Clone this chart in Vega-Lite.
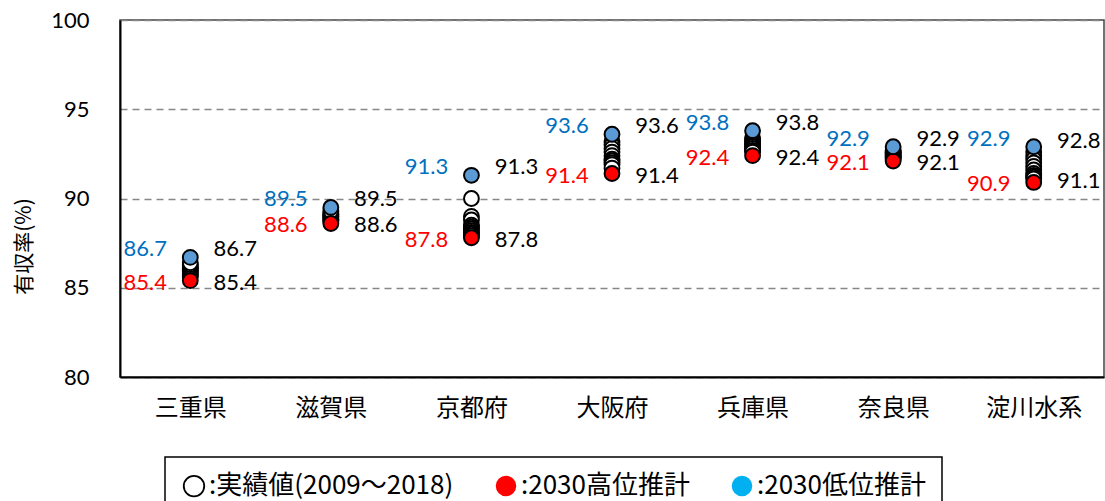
{
  "$schema": "https://vega.github.io/schema/vega-lite/v6.json",
  "width": 984,
  "height": 357,
  "autosize": {"type": "none"},
  "padding": {"left": 120, "top": 20, "right": 1, "bottom": 124},
  "background": "white",
  "config": {
    "view": {"stroke": "#444", "strokeWidth": 1.5},
    "font": "Lato"
  },
  "datasets": {
    "pts": [
      {"pref": "三重県", "type": "実績", "value": 85.6},
      {"pref": "三重県", "type": "実績", "value": 85.7},
      {"pref": "三重県", "type": "実績", "value": 85.8},
      {"pref": "三重県", "type": "実績", "value": 85.9},
      {"pref": "三重県", "type": "実績", "value": 86.0},
      {"pref": "三重県", "type": "実績", "value": 86.0},
      {"pref": "三重県", "type": "実績", "value": 86.1},
      {"pref": "三重県", "type": "実績", "value": 86.2},
      {"pref": "三重県", "type": "実績", "value": 86.3},
      {"pref": "三重県", "type": "実績", "value": 86.4},
      {"pref": "滋賀県", "type": "実績", "value": 88.7},
      {"pref": "滋賀県", "type": "実績", "value": 88.8},
      {"pref": "滋賀県", "type": "実績", "value": 88.8},
      {"pref": "滋賀県", "type": "実績", "value": 88.9},
      {"pref": "滋賀県", "type": "実績", "value": 89.0},
      {"pref": "滋賀県", "type": "実績", "value": 89.0},
      {"pref": "滋賀県", "type": "実績", "value": 89.1},
      {"pref": "滋賀県", "type": "実績", "value": 89.1},
      {"pref": "滋賀県", "type": "実績", "value": 89.2},
      {"pref": "滋賀県", "type": "実績", "value": 89.3},
      {"pref": "京都府", "type": "実績", "value": 90.0},
      {"pref": "京都府", "type": "実績", "value": 89.0},
      {"pref": "京都府", "type": "実績", "value": 88.8},
      {"pref": "京都府", "type": "実績", "value": 88.5},
      {"pref": "京都府", "type": "実績", "value": 88.4},
      {"pref": "京都府", "type": "実績", "value": 88.3},
      {"pref": "京都府", "type": "実績", "value": 88.2},
      {"pref": "京都府", "type": "実績", "value": 88.1},
      {"pref": "京都府", "type": "実績", "value": 88.0},
      {"pref": "京都府", "type": "実績", "value": 87.9},
      {"pref": "大阪府", "type": "実績", "value": 93.2},
      {"pref": "大阪府", "type": "実績", "value": 93.0},
      {"pref": "大阪府", "type": "実績", "value": 92.8},
      {"pref": "大阪府", "type": "実績", "value": 92.6},
      {"pref": "大阪府", "type": "実績", "value": 92.4},
      {"pref": "大阪府", "type": "実績", "value": 92.2},
      {"pref": "大阪府", "type": "実績", "value": 92.1},
      {"pref": "大阪府", "type": "実績", "value": 92.0},
      {"pref": "大阪府", "type": "実績", "value": 91.9},
      {"pref": "大阪府", "type": "実績", "value": 91.7},
      {"pref": "兵庫県", "type": "実績", "value": 93.4},
      {"pref": "兵庫県", "type": "実績", "value": 93.3},
      {"pref": "兵庫県", "type": "実績", "value": 93.2},
      {"pref": "兵庫県", "type": "実績", "value": 93.1},
      {"pref": "兵庫県", "type": "実績", "value": 93.0},
      {"pref": "兵庫県", "type": "実績", "value": 92.9},
      {"pref": "兵庫県", "type": "実績", "value": 92.9},
      {"pref": "兵庫県", "type": "実績", "value": 92.8},
      {"pref": "兵庫県", "type": "実績", "value": 92.7},
      {"pref": "兵庫県", "type": "実績", "value": 92.6},
      {"pref": "奈良県", "type": "実績", "value": 92.7},
      {"pref": "奈良県", "type": "実績", "value": 92.6},
      {"pref": "奈良県", "type": "実績", "value": 92.6},
      {"pref": "奈良県", "type": "実績", "value": 92.5},
      {"pref": "奈良県", "type": "実績", "value": 92.5},
      {"pref": "奈良県", "type": "実績", "value": 92.4},
      {"pref": "奈良県", "type": "実績", "value": 92.4},
      {"pref": "奈良県", "type": "実績", "value": 92.3},
      {"pref": "奈良県", "type": "実績", "value": 92.3},
      {"pref": "奈良県", "type": "実績", "value": 92.2},
      {"pref": "淀川水系", "type": "実績", "value": 92.6},
      {"pref": "淀川水系", "type": "実績", "value": 92.4},
      {"pref": "淀川水系", "type": "実績", "value": 92.2},
      {"pref": "淀川水系", "type": "実績", "value": 92.0},
      {"pref": "淀川水系", "type": "実績", "value": 91.8},
      {"pref": "淀川水系", "type": "実績", "value": 91.6},
      {"pref": "淀川水系", "type": "実績", "value": 91.4},
      {"pref": "淀川水系", "type": "実績", "value": 91.3},
      {"pref": "淀川水系", "type": "実績", "value": 91.2},
      {"pref": "淀川水系", "type": "実績", "value": 91.1},
      {"pref": "三重県", "type": "高位", "value": 85.4},
      {"pref": "滋賀県", "type": "高位", "value": 88.6},
      {"pref": "京都府", "type": "高位", "value": 87.8},
      {"pref": "大阪府", "type": "高位", "value": 91.4},
      {"pref": "兵庫県", "type": "高位", "value": 92.4},
      {"pref": "奈良県", "type": "高位", "value": 92.1},
      {"pref": "淀川水系", "type": "高位", "value": 90.9},
      {"pref": "三重県", "type": "低位", "value": 86.7},
      {"pref": "滋賀県", "type": "低位", "value": 89.5},
      {"pref": "京都府", "type": "低位", "value": 91.3},
      {"pref": "大阪府", "type": "低位", "value": 93.6},
      {"pref": "兵庫県", "type": "低位", "value": 93.8},
      {"pref": "奈良県", "type": "低位", "value": 92.9},
      {"pref": "淀川水系", "type": "低位", "value": 92.9}
    ],
    "labels": [
      {"pref": "三重県", "side": "left", "pos": "top", "series": "低位", "value": 86.7},
      {"pref": "三重県", "side": "left", "pos": "bottom", "series": "高位", "value": 85.4},
      {"pref": "三重県", "side": "right", "pos": "top", "series": "実績", "value": 86.7},
      {"pref": "三重県", "side": "right", "pos": "bottom", "series": "実績", "value": 85.4},
      {"pref": "滋賀県", "side": "left", "pos": "top", "series": "低位", "value": 89.5},
      {"pref": "滋賀県", "side": "left", "pos": "bottom", "series": "高位", "value": 88.6},
      {"pref": "滋賀県", "side": "right", "pos": "top", "series": "実績", "value": 89.5},
      {"pref": "滋賀県", "side": "right", "pos": "bottom", "series": "実績", "value": 88.6},
      {"pref": "京都府", "side": "left", "pos": "top", "series": "低位", "value": 91.3},
      {"pref": "京都府", "side": "left", "pos": "bottom", "series": "高位", "value": 87.8},
      {"pref": "京都府", "side": "right", "pos": "top", "series": "実績", "value": 91.3},
      {"pref": "京都府", "side": "right", "pos": "bottom", "series": "実績", "value": 87.8},
      {"pref": "大阪府", "side": "left", "pos": "top", "series": "低位", "value": 93.6},
      {"pref": "大阪府", "side": "left", "pos": "bottom", "series": "高位", "value": 91.4},
      {"pref": "大阪府", "side": "right", "pos": "top", "series": "実績", "value": 93.6},
      {"pref": "大阪府", "side": "right", "pos": "bottom", "series": "実績", "value": 91.4},
      {"pref": "兵庫県", "side": "left", "pos": "top", "series": "低位", "value": 93.8},
      {"pref": "兵庫県", "side": "left", "pos": "bottom", "series": "高位", "value": 92.4},
      {"pref": "兵庫県", "side": "right", "pos": "top", "series": "実績", "value": 93.8},
      {"pref": "兵庫県", "side": "right", "pos": "bottom", "series": "実績", "value": 92.4},
      {"pref": "奈良県", "side": "left", "pos": "top", "series": "低位", "value": 92.9},
      {"pref": "奈良県", "side": "left", "pos": "bottom", "series": "高位", "value": 92.1},
      {"pref": "奈良県", "side": "right", "pos": "top", "series": "実績", "value": 92.9},
      {"pref": "奈良県", "side": "right", "pos": "bottom", "series": "実績", "value": 92.1},
      {"pref": "淀川水系", "side": "left", "pos": "top", "series": "低位", "value": 92.9},
      {"pref": "淀川水系", "side": "left", "pos": "bottom", "series": "高位", "value": 90.9},
      {"pref": "淀川水系", "side": "right", "pos": "top", "series": "実績", "value": 92.8},
      {"pref": "淀川水系", "side": "right", "pos": "bottom", "series": "実績", "value": 91.1}
    ]
  },
  "encoding": {
    "x": {
      "field": "pref",
      "type": "nominal",
      "sort": ["三重県", "滋賀県", "京都府", "大阪府", "兵庫県", "奈良県", "淀川水系"],
      "scale": {"paddingInner": 0, "paddingOuter": 0},
      "axis": {
        "title": null,
        "labelAngle": 0,
        "labelFont": "Noto Sans CJK JP",
        "labelFontSize": 24,
        "labelColor": "black",
        "labelPadding": 19,
        "ticks": false,
        "domainColor": "black",
        "domainWidth": 2,
        "grid": false
      }
    },
    "y": {
      "field": "value",
      "type": "quantitative",
      "scale": {"domain": [80, 100], "nice": false, "zero": false},
      "axis": {
        "title": "有収率(%)",
        "titleFont": "Noto Sans CJK JP",
        "titleFontSize": 21,
        "titleFontWeight": "normal",
        "titleColor": "black",
        "titleX": -86,
        "titleY": 226,
        "values": [80, 85, 90, 95, 100],
        "labelFont": "Lato",
        "labelFontSize": 22,
        "labelColor": "black",
        "labelPadding": 31,
        "ticks": false,
        "domainColor": "black",
        "domainWidth": 2,
        "grid": true,
        "gridColor": "#888888",
        "gridDash": [7, 5],
        "gridWidth": 1.5
      }
    }
  },
  "layer": [
    {
      "data": {"name": "pts"},
      "mark": {"type": "circle", "size": 220, "stroke": "black", "strokeWidth": 2, "opacity": 1},
      "encoding": {
        "fill": {
          "field": "type",
          "type": "nominal",
          "scale": {"domain": ["実績", "高位", "低位"], "range": ["white", "#FF0000", "#5B9BD5"]},
          "legend": null
        }
      }
    },
    {
      "data": {"name": "pts"},
      "mark": {"type": "circle", "size": 0, "opacity": 0},
      "encoding": {
        "fill": {
          "field": "type",
          "type": "nominal",
          "scale": {"domain": ["実績", "高位", "低位"], "range": ["white", "#FF0000", "#00B0F0"]},
          "legend": {
            "title": null,
            "orient": "none",
            "legendX": 45,
            "legendY": 437,
            "direction": "horizontal",
            "columns": 3,
            "columnPadding": 38,
            "padding": 16,
            "strokeColor": "black",
            "symbolType": "circle",
            "symbolSize": 420,
            "symbolOpacity": 1,
            "labelFont": "Noto Sans CJK JP",
            "labelFontSize": 26,
            "labelColor": "black",
            "labelOffset": 2,
            "labelLimit": 400,
            "labelExpr": "datum.value == '実績' ? ':実績値(2009～2018)' : datum.value == '高位' ? ':2030高位推計' : ':2030低位推計'",
            "encode": {
              "legend": {"update": {"strokeWidth": {"value": 1.5}}},
              "symbols": {"update": {
                "opacity": {"value": 1},
                "stroke": [{"test": "datum.value == '実績'", "value": "black"}, {"value": "transparent"}],
                "strokeWidth": {"value": 1.8}
              }}
            }
          }
        }
      }
    },
    {
      "data": {"name": "labels"},
      "transform": [{"filter": "datum.side == 'left' && datum.pos == 'top'"}],
      "mark": {"type": "text", "dx": -45, "dy": -8, "fontSize": 22, "font": "Lato", "align": "center", "baseline": "middle"},
      "encoding": {
        "text": {"field": "value", "type": "quantitative", "format": ".1f"},
        "color": {"field": "series", "type": "nominal", "scale": {"domain": ["低位", "高位", "実績"], "range": ["#0070C0", "#FF0000", "black"]}, "legend": null}
      }
    },
    {
      "data": {"name": "labels"},
      "transform": [{"filter": "datum.side == 'left' && datum.pos == 'bottom'"}],
      "mark": {"type": "text", "dx": -45, "dy": 2, "fontSize": 22, "font": "Lato", "align": "center", "baseline": "middle"},
      "encoding": {
        "text": {"field": "value", "type": "quantitative", "format": ".1f"},
        "color": {"field": "series", "type": "nominal", "scale": {"domain": ["低位", "高位", "実績"], "range": ["#0070C0", "#FF0000", "black"]}, "legend": null}
      }
    },
    {
      "data": {"name": "labels"},
      "transform": [{"filter": "datum.side == 'right' && datum.pos == 'top'"}],
      "mark": {"type": "text", "dx": 45, "dy": -8, "fontSize": 22, "font": "Lato", "align": "center", "baseline": "middle"},
      "encoding": {
        "text": {"field": "value", "type": "quantitative", "format": ".1f"},
        "color": {"field": "series", "type": "nominal", "scale": {"domain": ["低位", "高位", "実績"], "range": ["#0070C0", "#FF0000", "black"]}, "legend": null}
      }
    },
    {
      "data": {"name": "labels"},
      "transform": [{"filter": "datum.side == 'right' && datum.pos == 'bottom'"}],
      "mark": {"type": "text", "dx": 45, "dy": 2, "fontSize": 22, "font": "Lato", "align": "center", "baseline": "middle"},
      "encoding": {
        "text": {"field": "value", "type": "quantitative", "format": ".1f"},
        "color": {"field": "series", "type": "nominal", "scale": {"domain": ["低位", "高位", "実績"], "range": ["#0070C0", "#FF0000", "black"]}, "legend": null}
      }
    }
  ],
  "resolve": {"scale": {"fill": "independent"}}
}
